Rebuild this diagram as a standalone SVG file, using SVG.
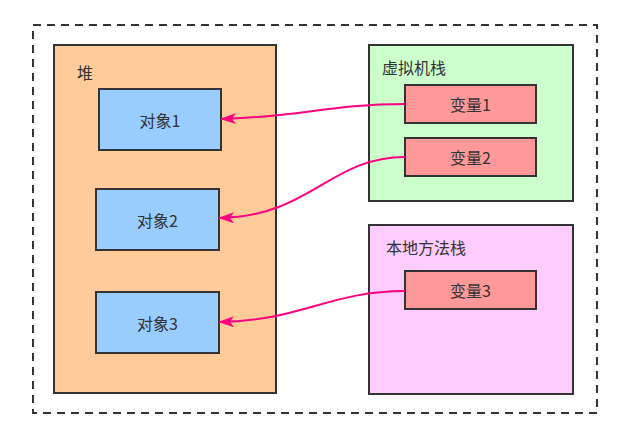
<svg xmlns="http://www.w3.org/2000/svg" width="622" height="439" viewBox="0 0 622 439">
<defs>
<style>
.box{stroke:#333333;stroke-width:2}
.t{font-family:"Noto Sans CJK SC","Noto Sans",sans-serif;font-size:16px;fill:#333333}
.c{text-anchor:middle;dominant-baseline:central}
.e{fill:none;stroke:#FF0080;stroke-width:2}
</style>
<marker id="ah" viewBox="0 0 16 11" refX="15" refY="5.5" markerWidth="16" markerHeight="11" orient="auto" markerUnits="userSpaceOnUse">
<path d="M0,0 L16,5.5 L0,11 L4,5.5 Z" fill="#FF0080"/>
</marker>
</defs>
<rect width="622" height="439" fill="#ffffff"/>
<rect id="frame" x="33" y="25" width="564" height="388" fill="none" stroke="#333333" stroke-width="2" stroke-dasharray="8 6"/>
<g id="heap">
<rect class="box" x="54" y="45" width="222" height="348" fill="#FFCC99"/>
<text class="t" x="77" y="72" dominant-baseline="central">堆</text>
</g>
<g id="obj1">
<rect class="box" x="99" y="89" width="122" height="61" fill="#99CCFF"/>
<text class="t c" x="160" y="120">对象1</text>
</g>
<g id="obj2">
<rect class="box" x="96" y="189" width="123" height="61" fill="#99CCFF"/>
<text class="t c" x="157.5" y="220">对象2</text>
</g>
<g id="obj3">
<rect class="box" x="96" y="292" width="123" height="61" fill="#99CCFF"/>
<text class="t c" x="157.5" y="323">对象3</text>
</g>
<g id="jvmstack">
<rect class="box" x="369" y="45" width="204" height="156" fill="#CCFFCC"/>
<text class="t" x="382" y="67" dominant-baseline="central">虚拟机栈</text>
</g>
<g id="var1">
<rect class="box" x="405" y="85" width="131" height="38" fill="#FF9999"/>
<text class="t c" x="470.5" y="104">变量1</text>
</g>
<g id="var2">
<rect class="box" x="405" y="138" width="131" height="38" fill="#FF9999"/>
<text class="t c" x="470.5" y="157">变量2</text>
</g>
<g id="nativestack">
<rect class="box" x="369" y="225" width="204" height="169" fill="#FFCCFF"/>
<text class="t" x="386" y="247" dominant-baseline="central">本地方法栈</text>
</g>
<g id="var3">
<rect class="box" x="405" y="271" width="131" height="38" fill="#FF9999"/>
<text class="t c" x="470.5" y="290">变量3</text>
</g>
<g id="connectors">
<path class="e" marker-end="url(#ah)" d="M405,104 C330,104 300,117 221,119"/>
<path class="e" marker-end="url(#ah)" d="M405,157 C330,157 310,217 219,218"/>
<path class="e" marker-end="url(#ah)" d="M405,291 C330,291 300,321 219,322"/>
</g>
</svg>
